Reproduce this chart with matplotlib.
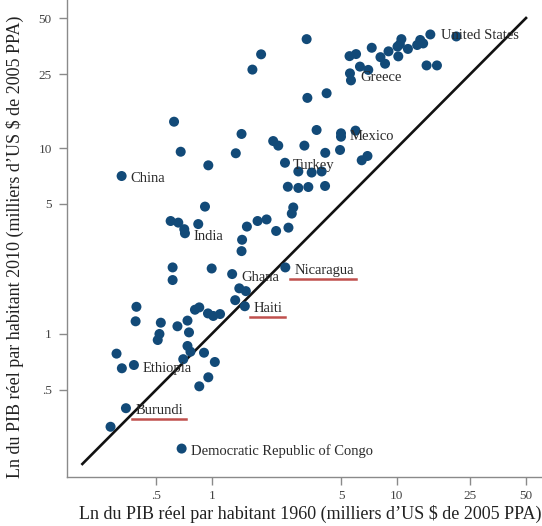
import matplotlib.pyplot as plt
from matplotlib.lines import Line2D

plt.rcParams['font.family'] = ['Liberation Serif', 'DejaVu Serif']

# GDP per head, thousands of 2005 PPP US$
gdp_1960 = [3.26, 1.85, 1.66, 3.29, 4.18, 0.626, 1.45, 0.680, 2.15, 2.29,
            3.17, 1.35, 0.959, 2.49, 2.94, 3.47, 3.93, 0.326, 2.58, 2.94,
            3.33, 4.10, 3.69, 5.00, 5.00, 5.99, 4.11, 4.94, 6.47, 6.95,
            15.2, 21.0, 13.4, 13.9, 12.9, 10.6, 10.4, 11.5, 10.1, 9.03,
            7.33, 10.2, 8.17, 6.03, 5.56, 8.65, 14.5, 16.5, 6.33, 7.02,
            5.59, 5.66, 0.920, 2.76, 2.71, 0.600, 0.660, 0.711, 0.717, 0.846,
            1.55, 1.77, 1.98, 2.23, 2.60, 1.46, 1.45, 0.615, 0.615, 1.00,
            1.29, 2.50, 1.41, 1.53, 1.34, 1.51, 0.392, 0.388, 0.531, 0.653,
            0.740, 0.812, 0.857, 0.955, 1.02, 1.11, 0.522, 0.511, 0.754, 0.306,
            0.327, 0.380, 0.740, 0.768, 0.702, 0.909, 1.04, 0.959, 0.857, 0.344,
            0.284, 0.688]
gdp_2010 = [38.5, 31.9, 26.4, 18.6, 19.7, 13.85, 11.9, 9.55, 10.9, 10.3,
            10.3, 9.37, 8.07, 8.33, 7.48, 7.38, 7.48, 7.07, 6.19, 6.10,
            6.17, 6.25, 12.5, 12.0, 11.5, 12.4, 9.42, 9.76, 8.59, 9.06,
            40.8, 39.8, 38.1, 36.5, 35.8, 38.5, 36.1, 34.1, 35.1, 33.1,
            34.6, 31.1, 30.8, 32.0, 31.2, 28.4, 27.8, 27.8, 27.4, 26.3,
            25.2, 23.1, 4.84, 4.79, 4.44, 4.05, 3.97, 3.66, 3.48, 3.90,
            3.78, 4.05, 4.13, 3.58, 3.73, 3.21, 2.79, 2.28, 1.95, 2.25,
            2.10, 2.28, 1.76, 1.70, 1.52, 1.41, 1.40, 1.17, 1.15, 1.10,
            1.18, 1.35, 1.39, 1.29, 1.25, 1.28, 1.00, 0.928, 1.02, 0.784,
            0.654, 0.681, 0.862, 0.803, 0.732, 0.793, 0.707, 0.585, 0.523, 0.399,
            0.317, 0.242]

# index of the labelled countries in the arrays above
labelled = {'United States': 30, 'Greece': 51, 'Mexico': 24, 'Turkey': 13,
            'China': 17, 'India': 58, 'Ghana': 70, 'Nicaragua': 71,
            'Haiti': 75, 'Ethiopia': 91, 'Burundi': 99,
            'Democratic Republic of Congo': 101}
underlined = ['Nicaragua', 'Haiti', 'Burundi']

tick_values = [0.5, 1, 5, 10, 25, 50]
tick_labels = ['.5', '1', '5', '10', '25', '50']

x_title = 'Ln du PIB réel par habitant 1960 (milliers d’US $ de 2005 PPA)'
y_title = 'Ln du PIB réel par habitant 2010 (milliers d’US $ de 2005 PPA)'

# text offsets from the dot, in pixels
label_offsets = {'United States': (11, -1), 'Greece': (9, 3), 'Mexico': (9, 0),
                 'Turkey': (8, -3), 'China': (9, -2), 'India': (9, -3),
                 'Ghana': (9, -3), 'Nicaragua': (9, -3), 'Haiti': (9, -2),
                 'Ethiopia': (9, -3), 'Burundi': (10, -2),
                 'Democratic Republic of Congo': (9, -3)}

fig = plt.figure(figsize=(5.42, 5.26), dpi=100)
ax = fig.add_axes([67 / 542, 49 / 526, 475 / 542, 477 / 526])

ax.plot([0.2, 50], [0.2, 50], color='#111111', lw=1.9, zorder=1)
ax.scatter(gdp_1960, gdp_2010, s=52, color='#124a78', edgecolors='none', zorder=2)

ax.set_xscale('log')
ax.set_yscale('log')
ax.set_xlim(0.1652, 61.0)
ax.set_ylim(0.1702, 62.5)
ax.minorticks_off()
ax.set_xticks(tick_values, tick_labels)
ax.set_yticks(tick_values, tick_labels)

for side in ['top', 'right']:
    ax.spines[side].set_visible(False)
for side in ['left', 'bottom']:
    ax.spines[side].set_color('#8a8a8a')
    ax.spines[side].set_linewidth(1.0)
ax.tick_params(axis='both', direction='out', length=6, width=1.0,
               color='#8a8a8a', labelcolor='#444444', labelsize=9.5)
ax.tick_params(axis='x', pad=3.5)
ax.tick_params(axis='y', pad=5)

ax.set_xlabel(x_title, fontsize=13, color='#222222', va='center')
ax.xaxis.set_label_coords(0.512, -0.078)
ax.set_ylabel(y_title, fontsize=13, color='#222222', va='center')
ax.yaxis.set_label_coords(-0.109, 0.483)

texts = {}
for name, i in labelled.items():
    dx, dy = label_offsets[name]
    texts[name] = ax.annotate(name, (gdp_1960[i], gdp_2010[i]), xytext=(dx, dy),
                              textcoords='offset pixels', fontsize=10.5,
                              color='#2a2a2a', ha='left', va='center', zorder=3)

# red underline below some of the labels
fig.canvas.draw()
renderer = fig.canvas.get_renderer()
to_fig = fig.transFigure.inverted()
for name in underlined:
    bb = texts[name].get_window_extent(renderer)
    (x0, y0), (x1, _) = to_fig.transform([(bb.x0 - 4, bb.y0 - 2), (bb.x1 + 2, bb.y0 - 2)])
    fig.add_artist(Line2D([x0, x1], [y0, y0], transform=fig.transFigure,
                          color='#c0504d', lw=1.8))

fig.savefig('out.png', dpi=100)
